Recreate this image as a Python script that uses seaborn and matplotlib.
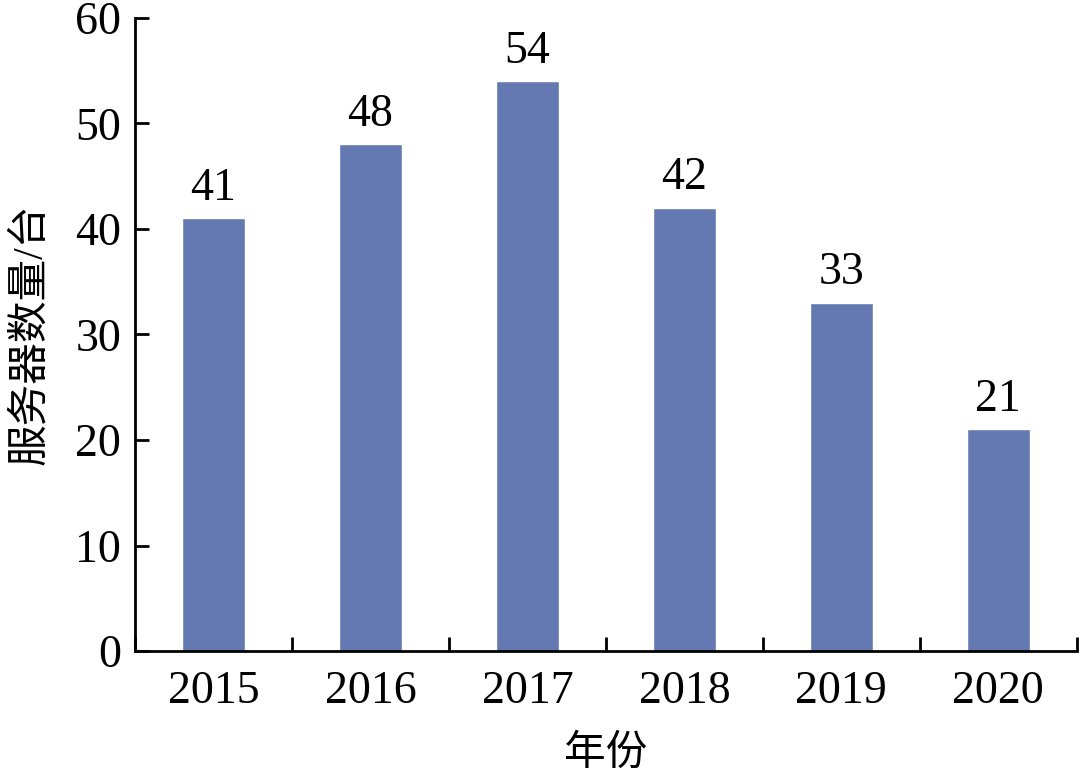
import seaborn as sns
import matplotlib.pyplot as plt
import pandas as pd
from matplotlib.ticker import FixedLocator

years = ['2015', '2016', '2017', '2018', '2019', '2020']
servers = [41, 48, 54, 42, 33, 21]

df = pd.DataFrame({'年份': years, '数量': servers})

sns.set_style('ticks')
plt.rcParams['font.family'] = ['Liberation Serif', 'Noto Sans CJK SC']
plt.rcParams['text.color'] = 'black'
plt.rcParams['axes.labelcolor'] = 'black'
plt.rcParams['xtick.color'] = 'black'
plt.rcParams['ytick.color'] = 'black'
plt.rcParams['axes.edgecolor'] = 'black'

fig = plt.figure(figsize=(10.8, 7.76), dpi=100)
ax = fig.add_axes([0.125, 0.161, 0.872, 0.816])

sns.barplot(data=df, x='年份', y='数量', color='#6479b1',
            width=0.4, saturation=1, ax=ax)

for i, v in enumerate(servers):
    ax.text(i, v + 0.8, str(v), ha='center', va='bottom', fontsize=33)

ax.set_xlim(-0.5, 5.5)
ax.set_ylim(0, 60)
ax.set_yticks(range(0, 61, 10))

# ticks between categories
ax.xaxis.set_minor_locator(FixedLocator([i + 0.5 for i in range(-1, 6)]))
ax.tick_params(axis='x', which='major', length=0, pad=14, labelsize=33)
ax.tick_params(axis='x', which='minor', direction='in', length=10, width=2)
ax.tick_params(axis='y', direction='in', length=10, width=2, labelsize=33, pad=10)

for side in ['top', 'right']:
    ax.spines[side].set_visible(False)
for side in ['left', 'bottom']:
    ax.spines[side].set_linewidth(2)

ax.set_xlabel('年份', fontsize=30, labelpad=16)
ax.set_ylabel('服务器数量/台', fontsize=30, labelpad=18)

fig.savefig('out.png', dpi=100)
